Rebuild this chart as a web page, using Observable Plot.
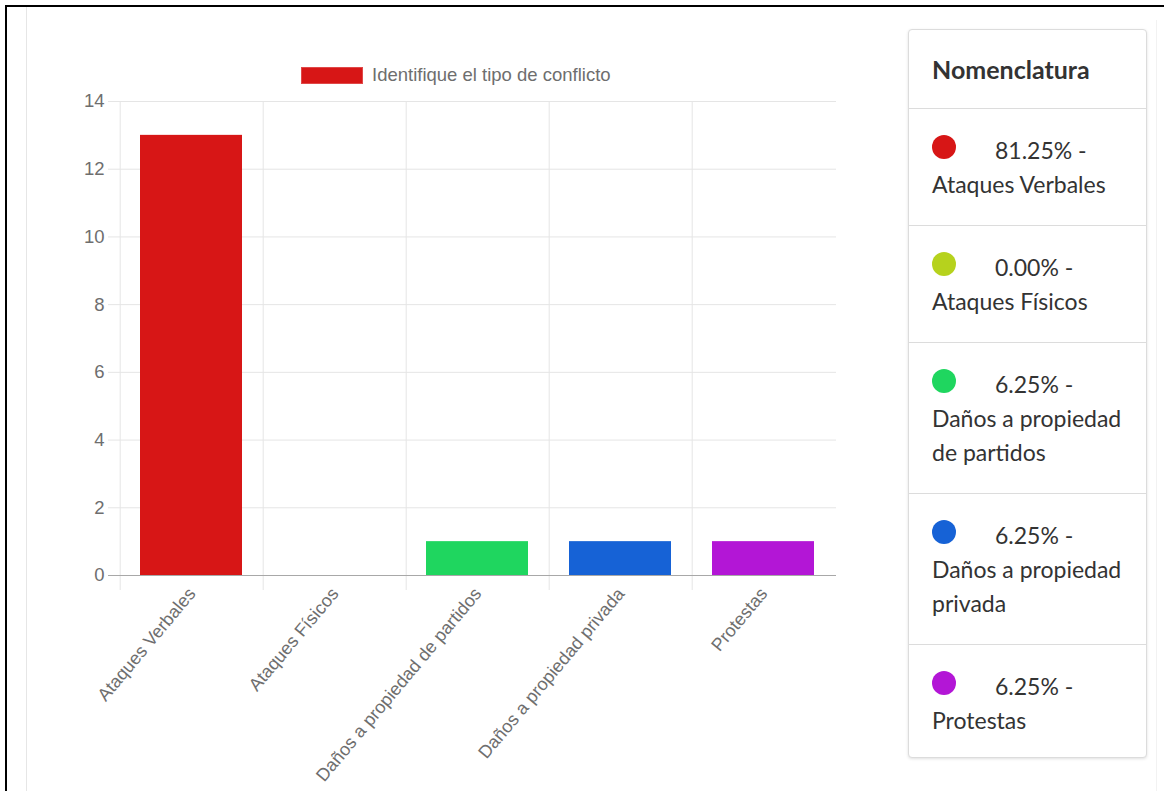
<!DOCTYPE html>
<html>
<head>
<meta charset="utf-8">
<script src="https://cdn.jsdelivr.net/npm/d3@7"></script>
<script src="https://cdn.jsdelivr.net/npm/@observablehq/plot@0.6"></script>
<style>
  html, body { margin: 0; padding: 0; background: #fff; }
  #page { position: relative; width: 1164px; height: 791px; overflow: hidden; background: #fff; }
  #frame { position: absolute; left: 5px; top: 5px; right: -10px; bottom: -10px; border-top: 2px solid #000; border-left: 2px solid #000; }
  #leftEdge { position: absolute; left: 26px; top: 7px; bottom: 0; width: 1px; background: #e6e6e6; }
  #rightEdge { position: absolute; left: 1156px; top: 20px; bottom: 0; width: 1px; background: #f2f2f2; }
  #chart { position: absolute; left: 0; top: 0; }
  #dsLegend { position: absolute; left: 301px; top: 64px; font-family: "Liberation Sans", Arial, sans-serif; font-size: 18.5px; color: #6e6e6e; display: flex; align-items: center; }
  #dsLegend .box { width: 60px; height: 15px; border: 1px solid #e04848; margin-right: 9px; }
  #card { position: absolute; left: 908px; top: 29px; width: 239px; height: 729px; box-sizing: border-box; border: 1px solid #dcdcdc; border-radius: 4px; box-shadow: 0 1px 3px rgba(0,0,0,0.12); font-family: Lato, "Open Sans", sans-serif; color: #333; background: #fff; }
  #card .hdr { padding: 22px 23px; font-size: 25px; line-height: 34px; font-weight: bold; border-bottom: 1px solid #dcdcdc; }
  #card .item { padding: 24px 23px; font-size: 23px; line-height: 34px; border-bottom: 1px solid #dcdcdc; white-space: nowrap; }
  #card .item:last-child { border-bottom: none; }
  #card .dot { display: inline-block; width: 24px; height: 24px; border-radius: 50%; margin-right: 39px; }
</style>
</head>
<body>
<div id="page">
  <div id="leftEdge"></div>
  <div id="rightEdge"></div>
  <div id="chart"></div>
  <div id="dsLegend"></div>
  <div id="card"></div>
  <div id="frame"></div>
</div>
<script>
// ---- data ----
const categories = ["Ataques Verbales", "Ataques Físicos", "Daños a propiedad de partidos", "Daños a propiedad privada", "Protestas"];
const legendLines = [["Ataques Verbales"], ["Ataques Físicos"], ["Daños a propiedad", "de partidos"], ["Daños a propiedad", "privada"], ["Protestas"]];
const counts = [13, 0, 1, 1, 1];
const colors = ["#d71616", "#b6d21d", "#1fd65f", "#1662d6", "#b316d6"];
const percents = ["81.25%", "0.00%", "6.25%", "6.25%", "6.25%"];
const yTicks = [0, 2, 4, 6, 8, 10, 12, 14];
const datasetLabel = "Identifique el tipo de conflicto";
const datasetColor = "#d71616";
const legendTitle = "Nomenclatura";

const table = categories.map((c, i) => ({category: c, count: counts[i]}));

const W = 860, H = 791, mL = 118, mR = 24, mT = 101, mB = 216;
const step = (W - mL - mR) / categories.length;

const chart = Plot.plot({
  width: W,
  height: H,
  marginLeft: mL,
  marginRight: mR,
  marginTop: mT,
  marginBottom: mB,
  style: {fontFamily: "'Liberation Sans', Arial, sans-serif", fontSize: "18px", color: "#6e6e6e", background: "transparent", overflow: "visible"},
  x: {domain: categories, padding: 0, label: null},
  y: {domain: [0, 14], label: null},
  color: {domain: categories, range: colors},
  marks: [
    Plot.ruleY(yTicks.filter(d => d > 0), {y: d => d, stroke: "#e5e5e5", strokeOpacity: 1, insetLeft: -10}),
    Plot.ruleX(categories, {x: d => d, dx: -step / 2, stroke: "#e5e5e5", strokeOpacity: 1, insetBottom: -15}),
    Plot.barY(table, {x: "category", y: "count", fill: "category", insetLeft: 20, insetRight: 21}),
    Plot.ruleY([0], {stroke: "#a8a8a8", insetLeft: -10}),
    Plot.axisY({ticks: yTicks, tickSize: 0, tickPadding: 14, fontSize: 18.5}),
    Plot.axisX({tickSize: 0, tickRotate: -50, tickPadding: 15, fontSize: 18})
  ]
});
document.getElementById("chart").appendChild(chart);

// dataset legend
const dl = document.getElementById("dsLegend");
const box = document.createElement("span");
box.className = "box";
box.style.background = datasetColor;
dl.appendChild(box);
dl.appendChild(document.createTextNode(datasetLabel));

// nomenclature card
const card = document.getElementById("card");
const hdr = document.createElement("div");
hdr.className = "hdr";
hdr.textContent = legendTitle;
card.appendChild(hdr);
categories.forEach((c, i) => {
  const it = document.createElement("div");
  it.className = "item";
  const dot = document.createElement("span");
  dot.className = "dot";
  dot.style.background = colors[i];
  it.appendChild(dot);
  it.appendChild(document.createTextNode(percents[i] + " -"));
  legendLines[i].forEach(line => {
    it.appendChild(document.createElement("br"));
    it.appendChild(document.createTextNode(line));
  });
  card.appendChild(it);
});
</script>
</body>
</html>
